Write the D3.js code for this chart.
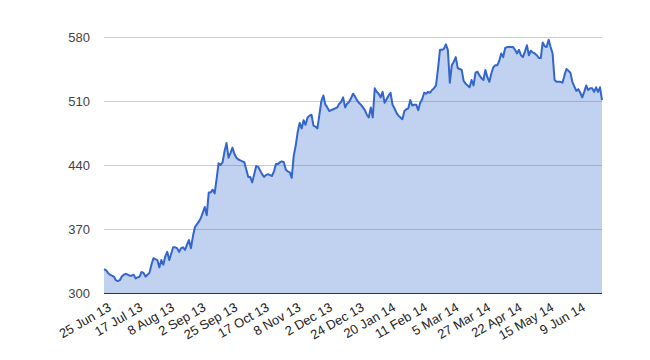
<!DOCTYPE html>
<html>
<head>
<meta charset="utf-8">
<script src="https://cdn.jsdelivr.net/npm/d3@7"></script>
<style>
  body { margin: 0; background: #fff; }
  #chart text { font-family: "Liberation Sans", Arial, sans-serif; }
</style>
</head>
<body>
<div id="chart"></div>
<script>
(function () {
  'use strict';

  // one value per trading day, 25 Jun 13 .. 25 Jun 14
  var closes = [
    326, 325, 322, 320, 319, 318, 314, 313, 314, 318,
    320, 321, 320, 319, 319, 320, 316, 317, 318, 323,
    322, 318, 320, 322, 331, 338, 337, 336, 328, 336,
    331, 340, 345, 336, 343, 350, 350, 349, 345, 349,
    350, 347, 353, 358, 349, 362, 372, 375, 378, 382,
    388, 394, 385, 410, 410, 413, 409, 425, 442, 440,
    443, 455, 464, 448, 453, 459, 452, 448, 446, 445,
    444, 443, 435, 427, 427, 421, 430, 439, 438, 434,
    430, 427, 429, 430, 429, 428, 433, 441, 441, 443,
    444, 443, 435, 433, 432, 426, 450, 461, 476, 486,
    480, 489, 484, 492, 494, 495, 483, 482, 480, 495,
    510, 516, 506, 503, 499, 500, 501, 502, 503, 507,
    509, 514, 503, 507, 509, 513, 518, 515, 511, 508,
    506, 503, 500, 495, 492, 503, 492, 524, 520, 518,
    514, 520, 508, 512, 516, 519, 506, 502, 497, 494,
    492, 490, 499, 501, 502, 511, 505, 506, 506, 500,
    508, 512, 519, 518, 520, 519, 522, 524, 527, 545,
    566, 566, 567, 572, 566, 530, 549, 553, 558, 546,
    545, 544, 532, 529, 527, 525, 533, 527, 541, 542,
    538, 535, 533, 544, 536, 531, 540, 547, 549, 549,
    554, 562, 558, 568, 569, 569, 569, 569, 566, 562,
    566, 560, 558, 564, 571, 560, 565, 563, 562, 560,
    557, 557, 574, 570, 569, 577, 569, 562, 533, 531,
    531, 531, 530, 538, 545, 543, 541, 531, 526, 521,
    523, 519, 514, 520, 527, 522, 524, 524, 520, 525,
    520, 525, 511
  ];

  // a label on every 16th trading day
  var dateLabels = [
    '25 Jun 13', '17 Jul 13', '8 Aug 13', '2 Sep 13', '25 Sep 13', '17 Oct 13',
    '8 Nov 13', '2 Dec 13', '24 Dec 13', '20 Jan 14', '11 Feb 14', '5 Mar 14',
    '27 Mar 14', '22 Apr 14', '15 May 14', '9 Jun 14'
  ];
  var labelStep = 16;

  var yTicks = [300, 370, 440, 510, 580];

  var width = 650,
    height = 360,
    left = 104,
    right = 602,
    top = 37,
    bottom = 293;

  var x = d3.scalePoint()
    .domain(d3.range(closes.length))
    .range([left, right]);

  var y = d3.scaleLinear()
    .domain([300, 580])
    .range([bottom, top]);

  var svg = d3.select('#chart').append('svg')
    .attr('width', width)
    .attr('height', height);

  // gridlines (under the translucent area)
  svg.append('g')
    .selectAll('line')
    .data(yTicks.slice(1))
    .enter()
    .append('line')
    .attr('x1', left)
    .attr('x2', right)
    .attr('y1', function (d) { return y(d) + 0.5; })
    .attr('y2', function (d) { return y(d) + 0.5; })
    .attr('stroke', '#cccccc')
    .attr('stroke-width', 1);

  var area = d3.area()
    .x(function (d, i) { return x(i); })
    .y0(y(300))
    .y1(function (d) { return y(d); });

  var line = d3.line()
    .x(function (d, i) { return x(i); })
    .y(function (d) { return y(d); });

  svg.append('path')
    .datum(closes)
    .attr('d', area)
    .attr('fill', '#3366cc')
    .attr('fill-opacity', 0.3);

  // baseline
  svg.append('line')
    .attr('x1', left)
    .attr('x2', right)
    .attr('y1', y(300) + 0.5)
    .attr('y2', y(300) + 0.5)
    .attr('stroke', '#333333')
    .attr('stroke-width', 1);

  svg.append('path')
    .datum(closes)
    .attr('d', line)
    .attr('fill', 'none')
    .attr('stroke', '#3366cc')
    .attr('stroke-width', 2)
    .attr('stroke-linejoin', 'round');

  // y labels
  svg.append('g')
    .selectAll('text')
    .data(yTicks)
    .enter()
    .append('text')
    .attr('x', 90)
    .attr('y', function (d) { return y(d) + 5; })
    .attr('text-anchor', 'end')
    .attr('font-size', 13)
    .attr('fill', '#444444')
    .text(function (d) { return d; });

  // x labels, slanted
  svg.append('g')
    .selectAll('text')
    .data(dateLabels)
    .enter()
    .append('text')
    .attr('transform', function (d, i) {
      return 'translate(' + (x(i * labelStep) + 8) + ',310) rotate(-30)';
    })
    .attr('text-anchor', 'end')
    .attr('font-size', 13)
    .attr('fill', '#222222')
    .text(function (d) { return d; });

})();
</script>
</body>
</html>
